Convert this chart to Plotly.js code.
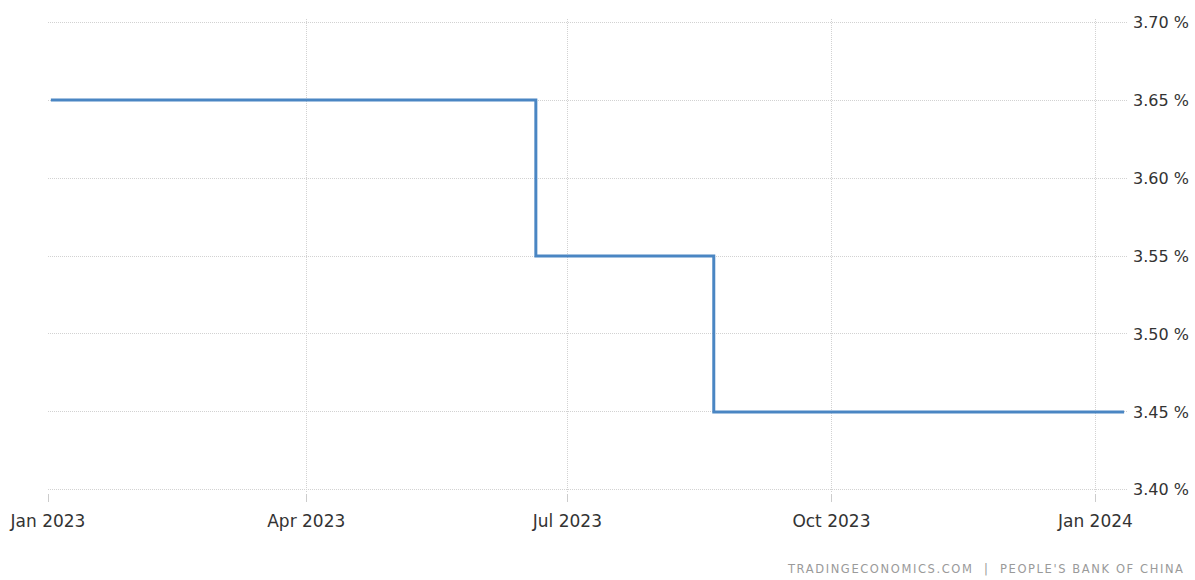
<!DOCTYPE html>
<html>
<head>
<meta charset="utf-8">
<script src="https://cdn.plot.ly/plotly-3.0.1.min.js"></script>
<style>
html, body { margin: 0; padding: 0; background: #fff; }
#chart { width: 1195px; height: 580px; }
.annotation-text { letter-spacing: 1.6px; }
</style>
</head>
<body>
<div id="chart"></div>
<script>
// China 1-year loan prime rate (%)
const dates = ['2023-01-02', '2023-01-20', '2023-02-20', '2023-03-20', '2023-04-20', '2023-05-22',
               '2023-06-20', '2023-07-20', '2023-08-21', '2023-09-20', '2023-10-20', '2023-11-20',
               '2023-12-20', '2024-01-11'];
const rates = [3.65, 3.65, 3.65, 3.65, 3.65, 3.65,
               3.55, 3.55, 3.45, 3.45, 3.45, 3.45,
               3.45, 3.45];
const xTickVals = ['2023-01-01', '2023-04-01', '2023-07-01', '2023-10-01', '2024-01-01'];
const xTickText = ['Jan 2023', 'Apr 2023', 'Jul 2023', 'Oct 2023', 'Jan 2024'];
const yTickVals = [3.40, 3.45, 3.50, 3.55, 3.60, 3.65, 3.70];
const yTickText = ['3.40 %', '3.45 %', '3.50 %', '3.55 %', '3.60 %', '3.65 %', '3.70 %'];
const sourceText = 'TRADINGECONOMICS.COM  |  PEOPLE\'S BANK OF CHINA';

const trace = {
  x: dates,
  y: rates,
  type: 'scatter',
  mode: 'lines',
  line: { shape: 'hv', color: '#4a86c3', width: 3 },
  hoverinfo: 'x+y'
};

const layout = {
  width: 1195,
  height: 580,
  margin: { l: 48, r: 68, t: 19, b: 87 },
  paper_bgcolor: '#ffffff',
  plot_bgcolor: '#ffffff',
  showlegend: false,
  font: { family: 'DejaVu Sans, Verdana, sans-serif', color: '#333333', size: 16 },
  xaxis: {
    type: 'date',
    range: ['2023-01-01', '2024-01-12'],
    tickvals: xTickVals,
    ticktext: xTickText,
    showgrid: true,
    gridcolor: '#d2d2d2',
    griddash: '1px,1px',
    gridwidth: 1,
    zeroline: false,
    showline: false,
    ticks: 'outside',
    ticklen: 8,
    tickcolor: '#cccccc',
    ticklabelstandoff: 5,
    tickfont: { size: 17, color: '#333333' },
    fixedrange: true
  },
  yaxis: {
    side: 'right',
    range: [3.398, 3.702],
    tickvals: yTickVals,
    ticktext: yTickText,
    showgrid: true,
    gridcolor: '#d2d2d2',
    griddash: '1px,1px',
    gridwidth: 1,
    zeroline: false,
    showline: false,
    ticks: '',
    ticklabelstandoff: 5,
    tickfont: { size: 16, color: '#333333' },
    fixedrange: true
  },
  annotations: [{
    xref: 'paper', yref: 'paper',
    x: 1.056, y: -0.16,
    xanchor: 'right', yanchor: 'middle',
    text: sourceText,
    showarrow: false,
    font: { size: 11.5, color: '#9a9a9a', family: 'DejaVu Sans, Verdana, sans-serif' }
  }]
};

Plotly.newPlot('chart', [trace], layout, { displayModeBar: false, staticPlot: true });
</script>
</body>
</html>
